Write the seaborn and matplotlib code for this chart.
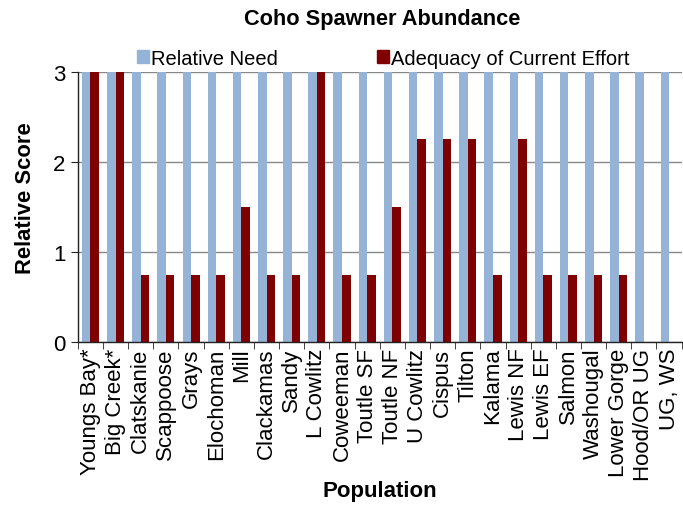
import pandas as pd
import seaborn as sns
import matplotlib.pyplot as plt
from matplotlib.patches import Patch

populations = ["Youngs Bay*", "Big Creek*", "Clatskanie", "Scappoose", "Grays",
               "Elochoman", "Mill", "Clackamas", "Sandy", "L Cowlitz", "Coweeman",
               "Toutle SF", "Toutle NF", "U Cowlitz", "Cispus", "Tilton", "Kalama",
               "Lewis NF", "Lewis EF", "Salmon", "Washougal", "Lower Gorge",
               "Hood/OR UG", "UG, WS"]
relative_need = [3] * 24
adequacy = [3, 3, 0.75, 0.75, 0.75, 0.75, 1.5, 0.75, 0.75, 3, 0.75, 0.75,
            1.5, 2.25, 2.25, 2.25, 0.75, 2.25, 0.75, 0.75, 0.75, 0.75, 0, 0]
series = ["Relative Need", "Adequacy of Current Effort"]
colors = ["#95B3D7", "#7F0000"]

df = pd.DataFrame({
    "Population": populations * 2,
    "Score": relative_need + adequacy,
    "Series": [series[0]] * 24 + [series[1]] * 24,
})

sns.set_style("white")
plt.rcParams["font.family"] = ["Liberation Sans", "DejaVu Sans"]
plt.rcParams["text.color"] = "black"
plt.rcParams["axes.labelcolor"] = "black"
plt.rcParams["xtick.color"] = "black"
plt.rcParams["ytick.color"] = "black"

fig = plt.figure(figsize=(6.83, 5.06), dpi=100)
ax = fig.add_axes([0.114, 0.322, 0.884, 0.534])

sns.barplot(data=df, x="Population", y="Score", hue="Series",
            palette=colors, width=0.68, ax=ax, legend=False, saturation=1,
            linewidth=0, edgecolor="none")

ax.set_ylim(0, 3)
ax.set_xlim(-0.5, 23.5)
ax.set_yticks([0, 1, 2, 3])
ax.yaxis.grid(True, color="#888888", linewidth=1)
ax.set_axisbelow(True)
for s in ["top", "right"]:
    ax.spines[s].set_visible(False)
for s in ["left", "bottom"]:
    ax.spines[s].set_color("#222222")
    ax.spines[s].set_linewidth(1)

ax.set_xticks(range(24))
ax.set_xticklabels(populations, rotation=90, fontsize=16)
ax.set_xticks([i - 0.5 for i in range(25)], minor=True)
ax.tick_params(axis="x", which="major", length=0, pad=4)
ax.tick_params(axis="x", which="minor", length=5, color="#222222", bottom=True)
ax.tick_params(axis="y", length=5, color="#222222", left=True, labelsize=16, pad=4)

ax.set_xlabel("Population", fontsize=16, fontweight="bold", va="center")
ax.xaxis.set_label_coords(0.5, -0.55)
ax.set_ylabel("Relative Score", fontsize=15.8, fontweight="bold", va="center")
ax.yaxis.set_label_coords(-0.087, 0.537)

handles = [Patch(color=c, label=l) for c, l in zip(colors, series)]
ax.legend(handles=handles, loc="center", bbox_to_anchor=(0.506, 1.05), ncol=2,
          frameon=False, fontsize=14.5, handlelength=0.6, handleheight=0.6,
          handletextpad=0.1, columnspacing=4.9, borderpad=0)

fig.text(382 / 683, 1 - 19 / 506, "Coho Spawner Abundance", ha="center",
         va="center", fontsize=15.7, fontweight="bold")

fig.savefig("out.png", dpi=100)
